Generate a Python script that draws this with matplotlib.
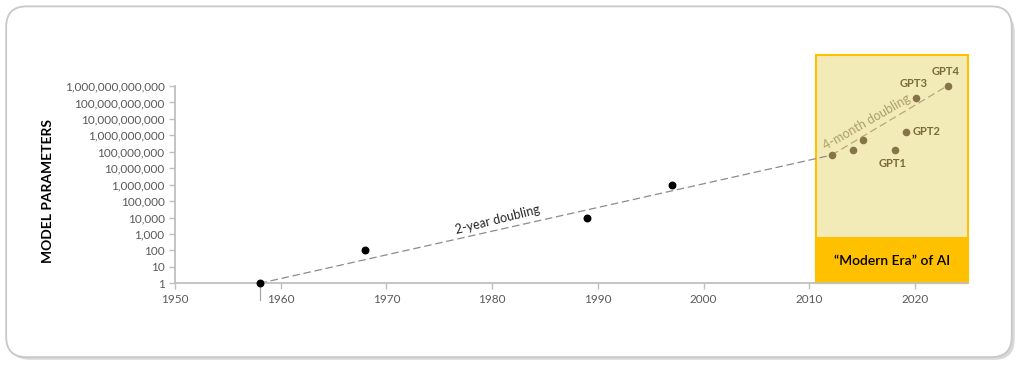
import numpy as np
import matplotlib
matplotlib.use("Agg")
import matplotlib.pyplot as plt
from matplotlib.patches import FancyBboxPatch, Rectangle
from matplotlib.ticker import FixedLocator, FuncFormatter

plt.rcParams['font.family'] = ['Lato', 'DejaVu Sans']

# early models (before the "modern era")
early_years = [1958, 1968, 1989, 1997]
early_params = [1, 100, 1e4, 1e6]

# modern era models
modern_years = [2012.1, 2014.1, 2015.1, 2018.1, 2019.1, 2020.1, 2023.1]
modern_params = [6.3e7, 1.3e8, 5.2e8, 1.2e8, 1.6e9, 1.9e11, 1.07e12]

gpt_names = ['GPT1', 'GPT2', 'GPT3', 'GPT4']
gpt_years = [2018.1, 2019.1, 2020.1, 2023.1]
gpt_params = [1.2e8, 1.6e9, 1.9e11, 1.07e12]

x_ticks = [1950, 1960, 1970, 1980, 1990, 2000, 2010, 2020]
y_ticks = [10 ** k for k in range(13)]

era_start, era_end = 2010.6, 2025
era_band_top = 550

fig = plt.figure(figsize=(10.24, 3.74), dpi=100)

# rounded outer frame with a soft shadow
shadow = FancyBboxPatch((0.009, 0.038), 0.982, 0.93, boxstyle="round,pad=0,rounding_size=0.02",
                        transform=fig.transFigure, facecolor='#d9d9d9', edgecolor='none',
                        mutation_aspect=2.74, zorder=-2)
frame = FancyBboxPatch((0.006, 0.045), 0.982, 0.938, boxstyle="round,pad=0,rounding_size=0.02",
                       transform=fig.transFigure, facecolor='white', edgecolor='#c8c8c8',
                       linewidth=1.3, mutation_aspect=2.74, zorder=-1)
fig.patches.extend([shadow, frame])

ax = fig.add_axes([0.1709, 0.2425, 0.7744, 0.611])
ax.set_facecolor('none')
ax.set_yscale('log')
ax.set_xlim(1950, 2025)
ax.set_ylim(1, 10 ** 13.9)

# modern era box
ax.add_patch(Rectangle((era_start, 1), era_end - era_start, 10 ** 13.9 - 1,
                       facecolor='#f3ebb7', edgecolor='#ffc000', linewidth=1.5, zorder=1,
                       clip_on=False))
ax.add_patch(Rectangle((era_start, 1), era_end - era_start, era_band_top - 1,
                       facecolor='#ffc000', edgecolor='#ffc000', linewidth=1.5, zorder=1.1,
                       clip_on=False))
ax.text((era_start + era_end) / 2, np.sqrt(era_band_top), '\u201cModern Era\u201d of AI',
        ha='center', va='center', fontsize=10, fontweight='semibold', color='black', zorder=3)

# trend lines
ax.plot([early_years[0], modern_years[0]], [early_params[0], modern_params[0]],
        linestyle=(0, (6, 3)), color='#8c8c8c', linewidth=0.9, zorder=2)
ax.plot([modern_years[0], modern_years[-1]], [modern_params[0], modern_params[-1]],
        linestyle=(0, (6, 3)), color='#b5a878', linewidth=0.9, zorder=2)
ax.text(1980.5, 7000, '2-year doubling', rotation=14, ha='center', va='center',
        fontsize=9, color='#262626')
ax.text(2015.4, 6.7e9, '4-month doubling', rotation=30, ha='center', va='center',
        fontsize=9, color='#ab9d6c')

# drop line from the first point
ax.plot([early_years[0], early_years[0]], [early_params[0], 0.09], color='#a6a6a6',
        linewidth=0.9, clip_on=False, zorder=2)

ax.scatter(early_years, early_params, s=22, color='black', zorder=4, clip_on=False)
ax.scatter(modern_years, modern_params, s=20, color='#857449', zorder=4, clip_on=False)

offsets = {'GPT1': (-0.2, 10 ** -0.8), 'GPT2': (2.0, 1.0), 'GPT3': (-0.25, 10 ** 0.9),
           'GPT4': (-0.2, 10 ** 0.85)}
for name, yr, p in zip(gpt_names, gpt_years, gpt_params):
    dx, fy = offsets[name]
    ax.text(yr + dx, p * fy, name, ha='center', va='center', fontsize=8,
            fontweight='bold', color='#7a6a3e', zorder=4)

# axes styling
for side in ['top', 'right']:
    ax.spines[side].set_visible(False)
for side in ['left', 'bottom']:
    ax.spines[side].set_color('#bfbfbf')
    ax.spines[side].set_linewidth(1.3)
ax.spines['left'].set_bounds(1, 1e12)

ax.set_xticks(x_ticks)
ax.yaxis.set_major_locator(FixedLocator(y_ticks))
ax.yaxis.set_minor_locator(FixedLocator([]))
ax.yaxis.set_major_formatter(FuncFormatter(lambda v, pos: f"{int(round(v)):,}"))
ax.tick_params(axis='both', colors='#bfbfbf', labelcolor='#595959', labelsize=8.5,
               length=4, width=1)
ax.set_ylabel('MODEL PARAMETERS', fontsize=10, fontweight='bold', color='black')
ax.yaxis.set_label_coords(-0.1526, 0.404)

fig.savefig('out.png', dpi=100)
